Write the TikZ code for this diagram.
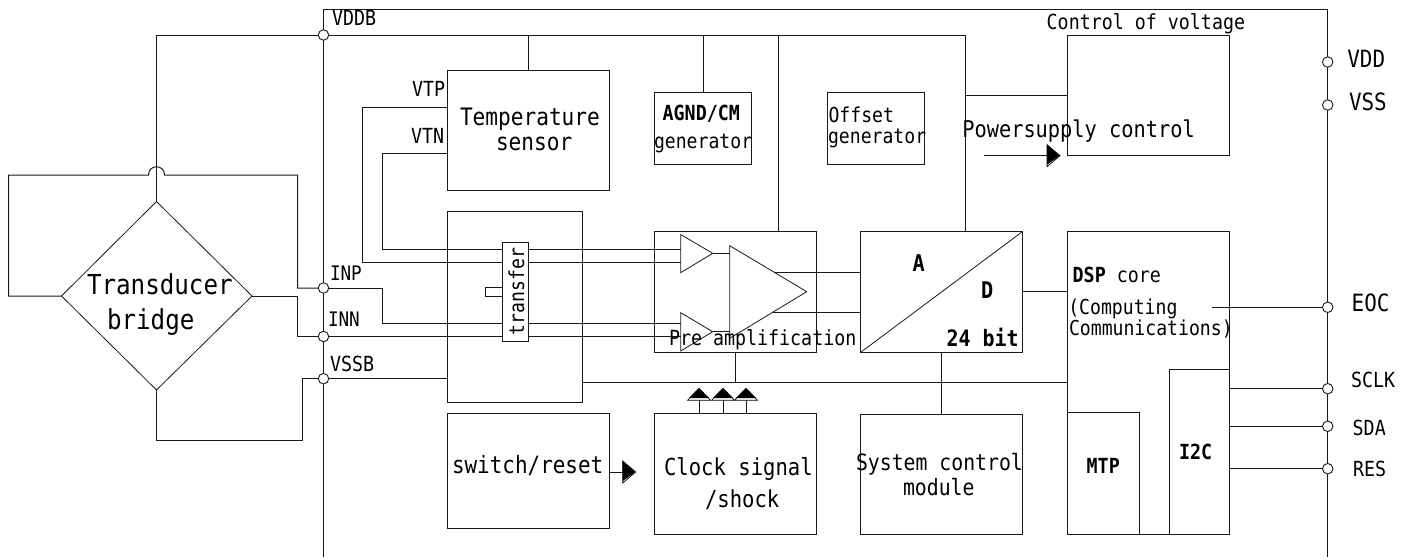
\documentclass[tikz,border=0pt]{standalone}
\usepackage{fontspec}
\newfontfamily\monoface[FakeStretch=0.88]{DejaVu Sans Mono}
\tikzset{
  wire/.style={line width=1pt,black!90},
  blk/.style={draw=black!90,line width=1pt,inner sep=0pt,outer sep=0pt,rectangle},
  term/.style={circle,draw=black!90,fill=white,line width=0.9pt,minimum size=10.5pt,inner sep=0pt,outer sep=0pt},
  lab/.style={inner sep=0pt,outer sep=0pt,anchor=base west,text=black,font=\monoface\fontsize{#1}{#1}\selectfont},
  blab/.style={lab=#1,font=\monoface\bfseries\fontsize{#1}{#1}\selectfont},
}
% name, x1, y1, x2, y2
\newcommand\blkat[6][]{\node[blk,#1,minimum width={(#4-#2)*1pt},minimum height={(#5-#3)*1pt}] (#6) at ({(#2+#4)/2},{(#3+#5)/2}) {};}
\newcommand\headright[3][]{%
  \draw[line width=0.7pt,fill=white] (#2,#3-11) -- (#2+13,#3) -- (#2,#3+11) -- cycle;
  \fill[black] (#2,#3-11) -- (#2+12.5,#3) -- (#2+3,#3+7) -- (#2,#3+9) -- cycle;}
\newcommand\headup[2]{%
  \draw[line width=0.7pt,fill=white] (#1-11.5,#2) -- (#1,#2-12) -- (#1+11.5,#2) -- cycle;
  \fill[black] (#1-10,#2-2.2) -- (#1,#2-12) -- (#1+10,#2-2.2) -- cycle;}
\begin{document}
\begin{tikzpicture}[x=1pt,y=-1pt]
\useasboundingbox (0,0) rectangle (1412,557);
% outer chip border
\draw[wire] (323.5,557) -- (323.5,9) -- (1327.7,9) -- (1327.7,557);

% junctions and free ends
\coordinate (dtop) at (156.5,201.5);
\coordinate (dleft) at (61.5,296);
\coordinate (dright) at (252,296);
\coordinate (dbot) at (156.5,390);
\coordinate (busE) at (965.3,35);
\coordinate (adcTop) at (965.3,231.7);
\coordinate (preTop) at (778.3,231.7);
\coordinate (ut1) at (680.7,234.5);
\coordinate (ut2) at (680.7,272.7);
\coordinate (ua) at (712.7,253.3);
\coordinate (lt1) at (680.7,312.7);
\coordinate (lt2) at (680.7,351);
\coordinate (la) at (712.7,331.7);
\coordinate (bt1) at (729.7,245.7);
\coordinate (bt2) at (729.7,338.3);
\coordinate (ba) at (806.7,291.7);

% blocks
\blkat{447.7}{70.3}{609.3}{190.7}{tempb}
\blkat{654.3}{92.3}{751.7}{164.7}{agnd}
\blkat{827.3}{92.3}{924.7}{164.7}{offs}
\blkat{1067.7}{35.7}{1229.3}{155.7}{ctrl}
\blkat{447.7}{211.5}{582}{402.3}{mux}
\blkat{654.3}{231.7}{816.3}{352.3}{pre}
\blkat{860.7}{231.7}{1022.3}{352.3}{adc}
\blkat{1067.7}{231.7}{1229.3}{534}{dsp}
\blkat{447.7}{413.7}{609.3}{528.5}{swr}
\blkat{654.3}{413.7}{816.3}{534}{clk}
\blkat{860.7}{414}{1022.3}{534.3}{sys}
\blkat{1067.7}{412.7}{1139}{534}{mtp}
\blkat{1169.3}{369.3}{1229.3}{534}{iic}

% terminals
\node[term] (tvddb) at (323.5,35) {};
\node[term] (tinp) at (323.5,288) {};
\node[term] (tinn) at (323.5,336.5) {};
\node[term] (tvssb) at (323.5,378.7) {};
\node[term] (tvdd) at (1327.7,62) {};
\node[term] (tvss) at (1327.7,105) {};
\node[term] (teoc) at (1327.7,307.3) {};
\node[term] (tsclk) at (1327.7,388.7) {};
\node[term] (tsda) at (1327.7,426.3) {};
\node[term] (tres) at (1327.7,468.7) {};

% bridge
\draw[wire,line width=0.8pt] (dtop) -- (dright) -- (dbot) -- (dleft) -- cycle;
\draw[wire] (tvddb) -| (dtop);
\draw[wire] (tvddb) -- (busE) -- (adcTop);
\draw[wire] (dleft) -- (8.5,296) -- (8.5,175) -- (148.5,175) .. controls (148.5,164) and (164.5,164) .. (164.5,175) -- (297.5,175) -- (297.5,288) -- (tinp);
\draw[wire] (dright) -- (297.5,296) -- (297.5,336.5) -- (tinn);
\draw[wire] (dbot) -- (156.5,440.7) -- (302.5,440.7) -- (302.5,378.7) -- (tvssb);
\draw[wire] (tvssb) -- (mux.west |- tvssb);

% supply taps
\draw[wire] (tempb.north) -- (tempb.north |- tvddb);
\draw[wire] (agnd.north) -- (agnd.north |- tvddb);
\draw[wire] (preTop) -- (preTop |- tvddb);
\draw[wire] (965.3,95.7) -- (ctrl.west |- 0,95.7);

% signal lines
\draw[wire] (tempb.west |- 0,107.3) -- (362.5,107.3) -- (362.5,262.7) -- (ut2 |- 0,262.7);
\draw[wire] (tempb.west |- 0,153.7) -- (382.3,153.7) -- (382.3,249.5) -- (ut1 |- 0,249.5);
\draw[wire] (tinp) -- (382.3,288) -- (382.3,323.5) -- (lt1 |- 0,323.5);
\draw[wire] (tinn) -- (lt1 |- tinn);

% amplifiers
\draw[wire,line width=0.8pt] (ut1) -- (ua) -- (ut2) -- cycle;
\draw[wire,line width=0.8pt] (lt1) -- (la) -- (lt2) -- cycle;
\draw[wire,line width=0.8pt] (bt1) -- (ba) -- (bt2) -- cycle;
\draw[wire] (ua) -- (bt1 |- ua);
\draw[wire] (la) -- (bt1 |- la);
\draw[wire] (775,272.7) -- (adc.west |- 0,272.7);
\draw[wire] (772.7,312.3) -- (adc.west |- 0,312.3);

% converter
\draw[wire,line width=0.8pt] (adc.south west) -- (adc.north east);
\draw[wire] (adc.east |- 0,291.7) -- (dsp.west |- 0,291.7);
\draw[wire] (941.7,352.3) -- (941.7,414);

% ground bus
\draw[wire] (mux.east |- 0,382.5) -- (dsp.west |- 0,382.5);
\draw[wire] (735.3,352.3) -- (735.3,382.5);

% right-hand pins
\draw[wire] (1212.3,307.3) -- (teoc);
\draw[wire] (dsp.east |- tsclk) -- (tsclk);
\draw[wire] (dsp.east |- tsda) -- (tsda);
\draw[wire] (dsp.east |- tres) -- (tres);

% arrows
\draw[wire] (clk.north -| 699,0) -- (699,398);
\draw[wire] (clk.north -| 723,0) -- (723,398);
\draw[wire] (clk.north -| 746,0) -- (746,398);
\headup{699}{400.3}
\headup{723}{400.3}
\headup{746}{400.3}
\draw[wire] (swr.east |- 0,472) -- (624,472);
\headright{622.7}{472}
\draw[wire] (984,155.7) -- (1048,155.7);
\headright{1047}{155.7}

% transfer switch
\draw[wire] (502.3,287.3) -- (485.3,287.3) -- (485.3,296.3) -- (502.3,296.3);
\node[blk,fill=white,minimum width=26.4pt,minimum height=99.7pt] (trf) at (515.5,291.85) {};
\node[lab=20.6,rotate=90] (ttrf) at (524,335) {transfer};

% labels
\node[lab=27.5] (l1) at (87,294) {Transducer};
\node[lab=27.5] (l2) at (107,329) {bridge};
\node[lab=20.8] (l3) at (332,25.7) {VDDB};
\node[lab=20.8] (l4) at (412,96.7) {VTP};
\node[lab=20.8] (l5) at (411,143.3) {VTN};
\node[lab=20] (l6) at (330,280) {INP};
\node[lab=20] (l7) at (328,326.7) {INN};
\node[lab=20.8] (l8) at (330,371) {VSSB};
\node[lab=24] (l9) at (460,125) {Temperature};
\node[lab=24] (l10) at (496,150.7) {sensor};
\node[blab=20.8] (l11) at (662.7,120) {AGND/CM};
\node[lab=20.6] (l12) at (654,148.3) {generator};
\node[lab=20.6] (l13) at (828.5,122.3) {Offset};
\node[lab=20.6] (l14) at (828,143.3) {generator};
\node[lab=20.8] (l15) at (1046.7,29.3) {Control of voltage};
\node[lab=23.1] (l16) at (962.3,137.7) {Powersupply control};
\node[lab=20.8] (l17) at (669,345.7) {Pre amplification};
\node[lab=23.8] (l18) at (452,473.3) {switch/reset};
\node[lab=23.4] (l19) at (664,475) {Clock signal};
\node[lab=23.4] (l20) at (705,507.7) {/shock};
\node[lab=22.5] (l21) at (856,470.7) {System control};
\node[lab=22.5] (l22) at (903,495) {module};
\node[blab=23] (l23) at (912.7,271.7) {A};
\node[blab=23] (l24) at (981,298.3) {D};
\node[blab=22.6] (l25) at (946.7,346.7) {24 bit};
\node[lab=20.8] (l26) at (1072.7,282.7) {{\bfseries DSP} core};
\node[lab=20.6] (l27) at (1068.3,314) {(Computing};
\node[lab=20.6] (l28) at (1069,335.7) {Communications)};
\node[blab=20.8] (l29) at (1086.7,473.3) {MTP};
\node[blab=20.8] (l30) at (1179,459) {I2C};
\node[lab=23.8] (l31) at (1347.3,67.3) {VDD};
\node[lab=23.8] (l32) at (1349,110) {VSS};
\node[lab=23.8] (l33) at (1351.7,311) {EOC};
\node[lab=20.8] (l34) at (1351,387.3) {SCLK};
\node[lab=20.8] (l35) at (1352.7,435) {SDA};
\node[lab=20.8] (l36) at (1353,476) {RES};
\end{tikzpicture}
\end{document}
